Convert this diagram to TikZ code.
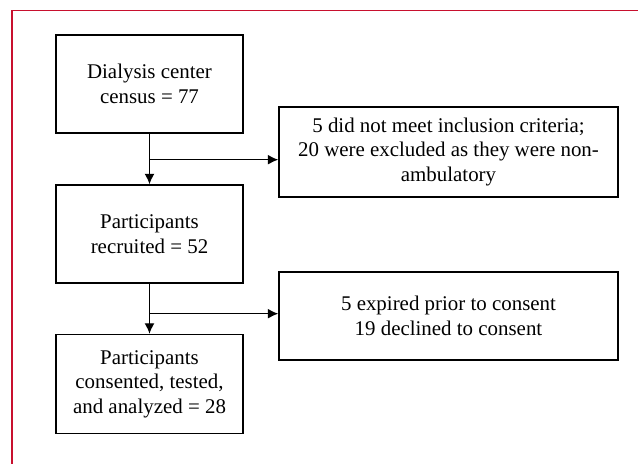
\documentclass[tikz,border=0pt]{standalone}
\usepackage{fontspec}
\setmainfont{Liberation Serif}
\usepackage{xcolor}
\usetikzlibrary{positioning, arrows.meta, calc}
\definecolor{framered}{RGB}{200,16,46}
\begin{document}
\begin{tikzpicture} [node distance = 3cm, on grid,
    box/.style = {draw, line width=0.8pt, align=center, inner sep=0pt,
      font=\fontsize{11.9pt}{13.9pt}\selectfont},
    mid/.style = {box, minimum width=3.74cm, minimum height=1.96cm},
    side/.style = {box, minimum width=6.78cm},
    flow/.style = {line width=0.8pt, -{Latex[length=2.1mm, width=2mm]}}]

        \useasboundingbox (0,0) rectangle (12.76,-9.28);
        \draw [framered, line width=1.1pt] (0.24,-9.4) -- (0.24,-0.21) -- (12.9,-0.21);

        \node (c0) [mid] at (2.99,-1.68) {Dialysis center\\census = 77};
        \node (c1) [mid, below = of c0] {Participants\\recruited = 52};
        \node (c2) [mid, below = of c1, minimum height=1.98cm] {Participants\\consented, tested,\\and analyzed = 28};

        \node (x0) [side, minimum height=1.8cm, below right = 1.36cm and 5.98cm of c0]
         {5 did not meet inclusion criteria;\\20 were excluded as they were non-\\ambulatory};
        \node (x1) [side, minimum height=1.76cm, below right = 1.64cm and 5.98cm of c1]
         {5 expired prior to consent\\19 declined to consent};

        \coordinate (s0) at ($(c0.south)+(0,-0.52)$);
        \coordinate (s1) at ($(c1.south)+(0,-0.6)$);

        \draw [flow] (c0) -- (c1);
        \draw [flow] (c1) -- (c2);
        \draw [flow] (s0) -- (s0 -| x0.west);
        \draw [flow] (s1) -- (s1 -| x1.west);

    \end{tikzpicture}
\end{document}
